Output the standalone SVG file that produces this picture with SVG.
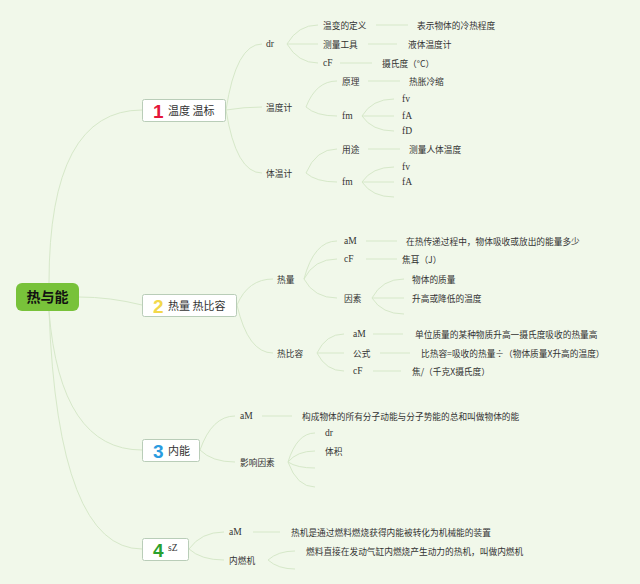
<svg xmlns="http://www.w3.org/2000/svg" width="640" height="584" viewBox="0 0 640 584">
<style>
.bg{fill:#f1f8ea}
.c{fill:none;stroke:#d6e8c9;stroke-width:1}
.t{font-family:"Noto Sans CJK SC","Noto Sans",sans-serif;font-size:8.7px;fill:#333}
.l{font-family:"Liberation Serif",serif;font-size:9.5px;fill:#333}
.box{fill:#ffffff;stroke:#b9cdb8;stroke-width:1}
.bt{font-family:"Noto Sans CJK SC","Noto Sans",sans-serif;font-size:11px;fill:#333}
.d{font-family:"Liberation Sans",Arial,sans-serif;font-size:19px;font-weight:bold}
</style>
<rect class="bg" x="0" y="0" width="640" height="584"/>
<g id="connectors">
<path class="c" d="M49 283 Q49 110 142 110"/>
<path class="c" d="M79 297 Q110 297 142 305"/>
<path class="c" d="M49 311 Q60 450 142 450"/>
<path class="c" d="M49 311 Q58 549 142 549"/>
<path class="c" d="M226 110 Q236 44 262 44"/>
<path class="c" d="M226 110 Q244 107 262 107"/>
<path class="c" d="M226 110 Q236 173 262 173"/>
<path class="c" d="M287 44 Q298 25 318 25"/>
<path class="c" d="M287 44 L318 44"/>
<path class="c" d="M287 44 Q298 63 318 63"/>
<path class="c" d="M376 25 L408 25"/>
<path class="c" d="M368 44 L397 44"/>
<path class="c" d="M340 63 L372 63"/>
<path class="c" d="M306 107 Q316 81 337 81"/>
<path class="c" d="M306 107 Q316 116 337 116"/>
<path class="c" d="M368 81 L400 81"/>
<path class="c" d="M362 116 Q372 99 394 99"/>
<path class="c" d="M362 116 L394 116"/>
<path class="c" d="M362 116 Q372 131 394 131"/>
<path class="c" d="M306 173 Q316 149 337 149"/>
<path class="c" d="M306 173 Q316 182 337 182"/>
<path class="c" d="M368 149 L400 149"/>
<path class="c" d="M362 182 Q372 167 394 167"/>
<path class="c" d="M362 182 L394 182"/>
<path class="c" d="M362 182 Q372 197 394 197"/>
<path class="c" d="M237 305 Q248 279 273 279"/>
<path class="c" d="M237 305 Q248 353 273 353"/>
<path class="c" d="M304 279 Q314 241 337 241"/>
<path class="c" d="M304 279 Q314 259 337 259"/>
<path class="c" d="M304 279 Q314 298 337 298"/>
<path class="c" d="M366 241 L397 241"/>
<path class="c" d="M366 259 L397 259"/>
<path class="c" d="M372 298 Q382 279 404 279"/>
<path class="c" d="M372 298 L404 298"/>
<path class="c" d="M372 298 Q382 314 404 314"/>
<path class="c" d="M317 353 Q326 334 344 334"/>
<path class="c" d="M317 353 L344 353"/>
<path class="c" d="M317 353 Q326 371 344 371"/>
<path class="c" d="M373 334 L403 334"/>
<path class="c" d="M380 353 L410 353"/>
<path class="c" d="M373 371 L401 371"/>
<path class="c" d="M200 450 Q212 416 235 416"/>
<path class="c" d="M200 450 Q212 462 235 462"/>
<path class="c" d="M262 416 L292 416"/>
<path class="c" d="M288 462 Q297 433 315 433"/>
<path class="c" d="M288 462 Q297 451 315 451"/>
<path class="c" d="M288 462 Q297 468 315 468"/>
<path class="c" d="M288 462 Q297 487 315 487"/>
<path class="c" d="M189 549 Q201 532 224 532"/>
<path class="c" d="M189 549 Q201 560 224 560"/>
<path class="c" d="M253 532 L280 532"/>
<path class="c" d="M268 560 Q278 551 295 551"/>
<path class="c" d="M268 560 Q278 569 295 569"/>
</g>
<g id="root">
<rect x="16" y="283" width="63" height="28" rx="6" fill="#78c23a"/>
<text x="47.5" y="302" text-anchor="middle" font-family="'Noto Sans CJK SC','Noto Sans',sans-serif" font-size="14" font-weight="bold" fill="#111">热与能</text>
</g>
<g id="topic1">
<rect class="box" x="142.5" y="99.5" width="83" height="22" rx="2"/>
<text class="d" x="153" y="117.5" fill="#e4163a">1</text>
<text class="bt" x="168" y="114.5">温度 温标</text>
</g>
<g id="topic2">
<rect class="box" x="142.5" y="294.5" width="94" height="22" rx="2"/>
<text class="d" x="153" y="312.5" fill="#f2d84a">2</text>
<text class="bt" x="168" y="309.5">热量 热比容</text>
</g>
<g id="topic3">
<rect class="box" x="142.5" y="439.5" width="57" height="22" rx="2"/>
<text class="d" x="153" y="457.5" fill="#2b9be0">3</text>
<text class="bt" x="168" y="454.5">内能</text>
</g>
<g id="topic4">
<rect class="box" x="142.5" y="538.5" width="46" height="22" rx="2"/>
<text class="d" x="153" y="556.5" fill="#2aa12e">4</text>
<text class="l" x="168" y="550.5" font-size="10.5px">sZ</text>
</g>
<g id="b1-dr"><text class="l" x="266" y="47">dr</text></g>
<g id="b1-wdj"><text class="t" x="266" y="110.5">温度计</text></g>
<g id="b1-twj"><text class="t" x="266" y="176.5">体温计</text></g>
<g id="b1-n1"><text class="t" x="323" y="28.5">温变的定义</text></g>
<g id="b1-n2"><text class="t" x="323" y="47.5">测量工具</text></g>
<g id="b1-n3"><text class="l" x="323" y="66">cF</text></g>
<g id="b1-n4"><text class="t" x="417" y="28.5">表示物体的冷热程度</text></g>
<g id="b1-n5"><text class="t" x="408" y="47.5">液体温度计</text></g>
<g id="b1-n6"><text class="t" x="382" y="66.5">摄氏度（°C）</text></g>
<g id="b1-n7"><text class="t" x="342" y="84.5">原理</text></g>
<g id="b1-n8"><text class="t" x="409" y="84.5">热胀冷缩</text></g>
<g id="b1-n9"><text class="l" x="342" y="119">fm</text></g>
<g id="b1-n10"><text class="l" x="402" y="102">fv</text></g>
<g id="b1-n11"><text class="l" x="402" y="119">fA</text></g>
<g id="b1-n12"><text class="l" x="402" y="134">fD</text></g>
<g id="b1-n13"><text class="t" x="342" y="152.5">用途</text></g>
<g id="b1-n14"><text class="t" x="409" y="152.5">测量人体温度</text></g>
<g id="b1-n15"><text class="l" x="342" y="185">fm</text></g>
<g id="b1-n16"><text class="l" x="402" y="170">fv</text></g>
<g id="b1-n17"><text class="l" x="402" y="185">fA</text></g>
<g id="b2-rl"><text class="t" x="277" y="282.5">热量</text></g>
<g id="b2-brr"><text class="t" x="277" y="356.5">热比容</text></g>
<g id="b2-n1"><text class="l" x="344" y="244">aM</text></g>
<g id="b2-n2"><text class="l" x="344" y="262">cF</text></g>
<g id="b2-n3"><text class="t" x="344" y="301.5">因素</text></g>
<g id="b2-n4"><text class="t" x="406" y="244.5">在热传递过程中，物体吸收或放出的能量多少</text></g>
<g id="b2-n5"><text class="t" x="402" y="262.5">焦耳（J）</text></g>
<g id="b2-n6"><text class="t" x="412" y="282.5">物体的质量</text></g>
<g id="b2-n7"><text class="t" x="412" y="301.5">升高或降低的温度</text></g>
<g id="b2-n8"><text class="l" x="353" y="337">aM</text></g>
<g id="b2-n9"><text class="t" x="353" y="356.5">公式</text></g>
<g id="b2-n10"><text class="l" x="353" y="374">cF</text></g>
<g id="b2-n11"><text class="t" x="415" y="337.5">单位质量的某种物质升高一摄氏度吸收的热量高</text></g>
<g id="b2-n12"><text class="t" x="421" y="356.5">比热容=吸收的热量÷（物体质量X升高的温度）</text></g>
<g id="b2-n13"><text class="t" x="412" y="374.5">焦/（千克X摄氏度）</text></g>
<g id="b3-n1"><text class="l" x="240" y="419">aM</text></g>
<g id="b3-n2"><text class="t" x="240" y="465.5">影响因素</text></g>
<g id="b3-n3"><text class="t" x="302" y="419.5">构成物体的所有分子动能与分子势能的总和叫做物体的能</text></g>
<g id="b3-n4"><text class="l" x="325" y="436">dr</text></g>
<g id="b3-n5"><text class="t" x="325" y="454.5">体积</text></g>
<g id="b4-n1"><text class="l" x="229" y="535">aM</text></g>
<g id="b4-n2"><text class="t" x="229" y="563.5">内燃机</text></g>
<g id="b4-n3"><text class="t" x="291" y="535.5">热机是通过燃料燃烧获得内能被转化为机械能的装置</text></g>
<g id="b4-n4"><text class="t" x="306" y="554.5">燃料直接在发动气缸内燃烧产生动力的热机，叫做内燃机</text></g>
</svg>
